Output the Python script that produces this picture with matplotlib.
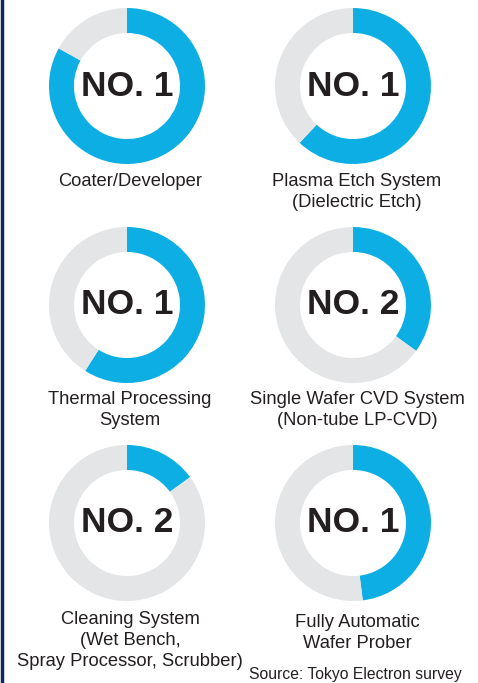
import matplotlib.pyplot as plt

# share of the blue ring (percent)
shares = [83, 62, 59, 35, 15, 48]
ranks = ["NO. 1", "NO. 1", "NO. 1", "NO. 2", "NO. 2", "NO. 1"]
labels = [
    "Coater/Developer",
    "Plasma Etch System\n(Dielectric Etch)",
    "Thermal Processing\nSystem",
    "Single Wafer CVD System\n(Non-tube LP-CVD)",
    "Cleaning System\n(Wet Bench,\nSpray Processor, Scrubber)",
    "Fully Automatic\nWafer Prober",
]
source = "Source: Tokyo Electron survey"

blue = "#0DAEE4"
grey = "#E4E5E6"
dark = "#231F20"

W, H = 478, 683
plt.rcParams['font.family'] = ['Liberation Sans', 'DejaVu Sans']
fig = plt.figure(figsize=(W / 100, H / 100), dpi=100)

# donut centres in pixels
cx = [127, 353]
cy = [86, 305, 523]
label_x = [130, 357]
label_y = [183, 401, 621]
R = 78

for i, (share, rank, lab) in enumerate(zip(shares, ranks, labels)):
    col, row = i % 2, i // 2
    x0, y0 = cx[col], cy[row]
    ax = fig.add_axes([(x0 - R) / W, 1 - (y0 + R) / H, 2 * R / W, 2 * R / H])
    ax.pie([share, 100 - share], colors=[blue, grey], startangle=90,
           counterclock=False, wedgeprops=dict(width=0.32, linewidth=0))
    ax.set_xlim(-1, 1)
    ax.set_ylim(-1, 1)
    ax.set_aspect('equal')
    ax.axis('off')
    ax.text(0, 0, rank, ha='center', va='center', fontsize=25.5,
            fontweight='bold', color=dark)
    ly = label_y[row] + (3 if (row == 2 and col == 1) else 0)
    fig.text(label_x[col] / W, 1 - (ly - 10) / H, lab, ha='center',
             va='top', fontsize=13.2, color=dark, linespacing=1.3)

fig.text(355 / W, 1 - 675 / H, source, ha='center', va='center',
         fontsize=11.3, color=dark)

# navy rule on the left edge
fig.add_artist(plt.Line2D([1.5 / W, 1.5 / W], [0, 1], color="#0B2A5B",
                          linewidth=2.5, transform=fig.transFigure))

plt.savefig('out.png', dpi=100)
